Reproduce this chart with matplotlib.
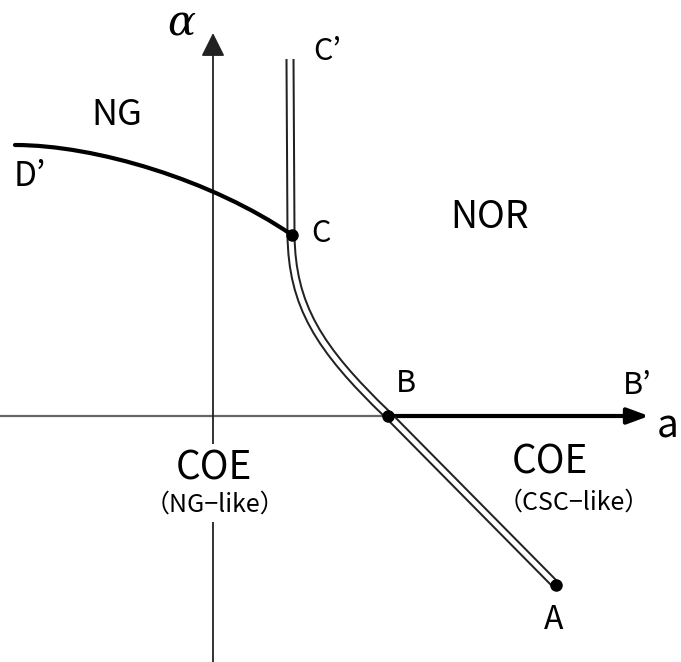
import matplotlib
matplotlib.use("Agg")
import matplotlib.pyplot as plt
from matplotlib.path import Path
from matplotlib.patches import PathPatch

plt.rcParams["font.family"] = ["Noto Sans CJK JP", "DejaVu Sans"]

# schematic phase boundaries, picture coordinates (x right, y down)
# C' -> C straight, C -> B bezier, B -> A straight
boundary_x = [290, 291, 292, 318, 388, 556]
boundary_y = [59, 235, 305, 348, 415, 585]
boundary_codes = [Path.MOVETO, Path.LINETO, Path.CURVE4, Path.CURVE4, Path.CURVE4, Path.LINETO]
# D' -> C bezier
ng_x = [15, 95, 212, 292]
ng_y = [145, 145, 180, 235]
ng_codes = [Path.MOVETO, Path.CURVE4, Path.CURVE4, Path.CURVE4]
pts_x = [292, 388, 556]                 # C, B, A
pts_y = [235, 416, 585]

labels = ["NG", "D’", "C’", "C", "NOR", "B", "B’", "a", "A"]
label_x = [117, 30, 327, 321, 490, 406, 637, 668, 554]
label_y = [115, 177, 52, 234, 217, 384, 385, 427, 620]
label_fs = [26, 24, 22, 22, 27, 22, 22, 28, 23]

fig = plt.figure(figsize=(6.81, 6.62), dpi=100)
ax = fig.add_axes([0, 0, 1, 1])
ax.set_xlim(0, 681)
ax.set_ylim(662, 0)
ax.axis("off")

# axes
ax.annotate("", xy=(213, 33), xytext=(213, 662),
            arrowprops=dict(arrowstyle="-|>,head_length=0.72,head_width=0.36", lw=1.3,
                            color="#222222", mutation_scale=20, shrinkA=0, shrinkB=0))
ax.plot([0, 388], [416, 416], color="#666666", lw=1.6)
ax.annotate("", xy=(649, 416), xytext=(388, 416),
            arrowprops=dict(arrowstyle="-|>,head_length=0.65,head_width=0.24", lw=3,
                            color="black", mutation_scale=20, shrinkA=0, shrinkB=0))

# double-line boundary C'-C-B-A
bpath = Path(list(zip(boundary_x, boundary_y)), boundary_codes)
for col, lw, z in [("#222222", 6.5, 3), ("white", 3.6, 4)]:
    p = PathPatch(bpath, facecolor="none", edgecolor=col, lw=lw, zorder=z)
    p.set_capstyle("butt"); p.set_joinstyle("round")
    ax.add_patch(p)

# NG boundary D'-C
p = PathPatch(Path(list(zip(ng_x, ng_y)), ng_codes), facecolor="none", edgecolor="black", lw=3, zorder=5)
p.set_capstyle("round")
ax.add_patch(p)
ax.plot(pts_x, pts_y, "o", color="black", ms=8, zorder=6)

ax.text(181, 24, "α", fontsize=30, style="italic", family=["DejaVu Serif"], ha="center", va="center")
for s, x, y, fs in zip(labels, label_x, label_y, label_fs):
    ax.text(x, y, s, fontsize=fs, ha="center", va="center", zorder=7)

ax.text(214, 469, "COE", fontsize=28, ha="center", va="center", zorder=7,
        bbox=dict(facecolor="white", edgecolor="none", pad=4))
ax.text(215, 505, "（NG−like）", fontsize=18, ha="center", va="center", zorder=7,
        bbox=dict(facecolor="white", edgecolor="none", pad=3))
ax.text(550, 462, "COE", fontsize=28, ha="center", va="center", zorder=7)
ax.text(574, 503, "（CSC−like）", fontsize=18, ha="center", va="center", zorder=7)

fig.savefig("out.png", dpi=100)
